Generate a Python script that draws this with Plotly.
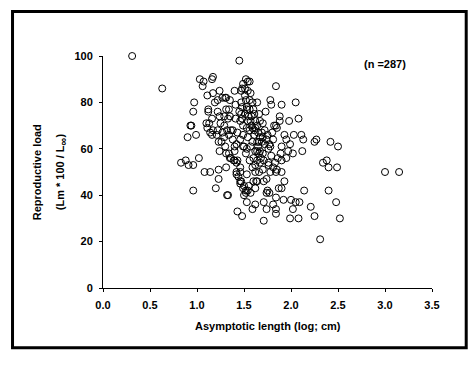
import plotly.graph_objects as go

x_vals = [0.31,0.63,1.45,3.0,3.15,2.31,2.52,2.48,2.40,2.25,2.21,2.14,2.08,1.99,2.09,2.05,2.02,2.0,1.92,1.93,
1.90,1.87,1.84,1.84,1.84,1.81,1.74,1.77,1.74,1.75,1.71,1.71,1.71,1.64,1.62,1.62,1.59,1.53,1.52,1.57,
1.55,1.50,1.48,1.43,1.42,1.42,1.46,1.44,1.46,1.49,1.33,1.32,1.20,1.23,1.23,1.14,1.08,0.96,0.83,0.88,
0.91,0.96,1.02,0.90,0.99,0.93,0.94,0.96,0.97,1.03,1.06,1.07,1.16,1.17,1.11,1.17,1.24,1.19,1.22,1.27,
1.30,1.31,1.12,1.12,1.22,1.31,1.34,1.16,1.10,1.13,1.24,1.29,1.35,1.25,1.29,1.33,1.17,1.14,1.22,1.21,
1.27,1.32,1.36,1.26,1.24,1.31,1.36,1.39,1.43,1.31,1.40,1.42,1.46,1.43,1.41,1.40,1.47,1.48,1.49,1.52,
1.54,1.56,1.51,1.54,1.57,1.47,1.52,1.56,1.59,1.64,1.48,1.53,1.56,1.60,1.47,1.51,1.55,1.61,1.66,1.73,
1.46,1.48,1.54,1.57,1.62,1.67,1.70,1.49,1.53,1.59,1.62,1.64,1.58,1.61,1.65,1.61,1.69,1.70,1.67,1.66,
1.69,1.74,1.75,1.72,1.77,1.76,1.64,1.66,1.60,1.64,1.56,1.67,1.62,1.66,1.52,1.53,1.49,1.50,1.78,1.84,
1.85,1.81,1.76,1.83,1.90,1.86,1.95,1.89,1.97,2.02,1.90,1.99,1.95,1.93,2.03,2.11,2.13,2.12,1.98,2.08,
1.88,1.88,1.84,1.82,1.85,1.80,1.90,1.79,1.78,1.84,2.05,2.25,2.27,2.42,2.50,2.34,2.38,2.40,2.49,1.60,
1.63,1.50,1.46,1.42,1.35,1.40,1.34,1.52,1.54,1.47,1.46,1.38,1.34,1.23,1.29,1.16,1.11,1.35,1.41,1.45,
1.64,1.72,1.65,1.57,1.67,1.68,1.71,1.62,1.70,1.76,1.90,1.56,1.54,1.59,1.53,1.58,1.51,1.49,1.62,1.70,
1.79,1.78,1.81,1.38,1.30,1.40,1.59,1.53,1.74]

y_vals = [100,86,98,50,50,21,30,37,42,31,35,42,30,30,37,37,34,38,38,46,
43,43,39,32,34,36,34,41,41,42,29,37,46,46,43,36,34,37,42,41,
44,40,31,33,49,50,50,48,46,43,40,40,43,47,51,50,50,42,54,55,
53,53,56,65,66,70,70,76,80,90,87,89,90,91,83,84,85,80,81,82,
82,82,77,76,76,77,77,73,71,71,74,74,74,71,70,73,68,67,68,66,
67,68,68,63,59,58,56,55,55,52,61,62,64,67,79,85,85,86,88,90,
89,89,86,85,84,80,81,81,80,80,78,78,77,77,75,75,74,75,75,76,
72,73,72,72,72,72,71,70,69,69,69,70,70,68,67,66,67,65,65,63,
63,64,66,68,62,60,59,58,56,55,55,54,53,50,58,60,61,61,50,50,
51,52,53,54,55,56,56,58,59,58,61,62,64,66,66,66,64,59,72,73,
74,72,70,70,69,67,79,79,81,87,80,63,64,63,61,54,55,52,52,46,
46,44,45,54,56,55,58,41,42,46,52,64,66,63,65,66,69,81,73,76,
63,62,61,61,59,56,55,50,51,54,50,68,65,63,77,74,83,66,59,58,
57,61,64,68,61,59,52,49,47]

n = min(len(x_vals), len(y_vals))

FONT = "Liberation Sans, Arial, sans-serif"

fig = go.Figure()
fig.add_trace(go.Scatter(
    x=x_vals[:n], y=y_vals[:n], mode="markers", cliponaxis=False,
    marker=dict(symbol="circle-open", size=7, color="black", line=dict(width=1, color="black")),
    showlegend=False, hoverinfo="skip"))

tickfont = dict(family=FONT, size=11, color="black", weight="bold")

fig.update_layout(
    width=476, height=367,
    margin=dict(l=103, r=44, t=56, b=79),
    paper_bgcolor="white", plot_bgcolor="white",
    font=dict(family=FONT, size=11, color="black"),
    hovermode=False,
    xaxis=dict(range=[0, 3.5], tickvals=[0, 0.5, 1, 1.5, 2, 2.5, 3, 3.5],
               ticktext=["0.0", "0.5", "1.0", "1.5", "2.0", "2.5", "3.0", "3.5"],
               showgrid=False, zeroline=False, showline=True, linecolor="black", linewidth=1,
               ticks="outside", ticklen=3, tickcolor="black", ticklabelstandoff=4,
               tickfont=tickfont),
    yaxis=dict(range=[0, 100], tickvals=[0, 20, 40, 60, 80, 100],
               showgrid=False, zeroline=False, showline=True, linecolor="black", linewidth=1,
               ticks="outside", ticklen=3, tickcolor="black", ticklabelstandoff=4,
               tickfont=tickfont),
    shapes=[dict(type="rect", xref="paper", yref="paper",
                 x0=-0.275, x1=1.104, y0=-0.258, y1=1.192,
                 line=dict(color="black", width=3), fillcolor="rgba(0,0,0,0)", layer="below")],
    annotations=[
        dict(text="<b>Asymptotic length (log; cm)</b>", xref="paper", yref="paper",
             x=0.5, y=-0.165, xanchor="center", yanchor="middle", showarrow=False,
             font=dict(family=FONT, size=11, color="black")),
        dict(text="<b>Reproductive load</b>", xref="paper", yref="paper",
             x=-0.2, y=0.5, textangle=-90, xanchor="center", yanchor="middle", showarrow=False,
             font=dict(family=FONT, size=11, color="black")),
        dict(text="<b>(Lm * 100 / L<sub><span style=\"font-size:11px\">∞</span></sub>)</b>",
             xref="paper", yref="paper",
             x=-0.127, y=0.5, textangle=-90, xanchor="center", yanchor="middle", showarrow=False,
             font=dict(family=FONT, size=11, color="black")),
        dict(text="<b>(n =287)</b>", xref="x", yref="y",
             x=3.0, y=96.5, xanchor="center", yanchor="middle", showarrow=False,
             font=dict(family=FONT, size=11, color="black")),
    ],
)

fig.write_html("out.html", config={"displayModeBar": False, "staticPlot": True},
               post_script="document.body.style.margin='0';document.body.style.padding='0';")
